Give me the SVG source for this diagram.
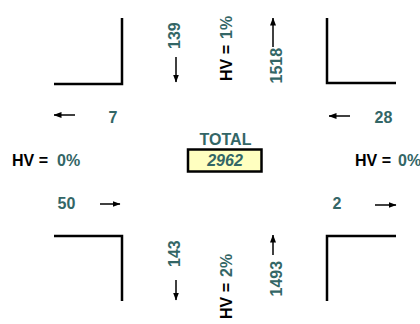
<svg xmlns="http://www.w3.org/2000/svg" width="420" height="324" viewBox="0 0 420 324">
<style>
text{font-family:"Liberation Sans",Arial,sans-serif;font-weight:bold;font-size:16px}
.t{fill:#336666}
.k{fill:#000}
.i{font-style:italic}
.curb{fill:none;stroke:#000;stroke-width:2.5}
.arr{fill:none;stroke:#000;stroke-width:1.5}
</style>
<defs>
<marker id="ah" markerUnits="userSpaceOnUse" markerWidth="8" markerHeight="6" refX="7.5" refY="3" orient="auto">
<path d="M0,0 L8,3 L0,6 z" fill="#000"/>
</marker>
</defs>
<g id="curbs">
<path class="curb" d="M54,84 H122 V18"/>
<path class="curb" d="M327,18 V83 H396"/>
<path class="curb" d="M54,236 H122 V301"/>
<path class="curb" d="M396,236 H327 V301"/>
</g>
<g id="connectors">
<line class="arr" x1="75" y1="115" x2="54" y2="115" marker-end="url(#ah)"/>
<line class="arr" x1="350" y1="116" x2="329" y2="116" marker-end="url(#ah)"/>
<line class="arr" x1="100" y1="204" x2="120" y2="204" marker-end="url(#ah)"/>
<line class="arr" x1="375" y1="205" x2="396" y2="205" marker-end="url(#ah)"/>
<line class="arr" x1="176" y1="57" x2="176" y2="82" marker-end="url(#ah)"/>
<line class="arr" x1="273" y1="47" x2="273" y2="18" marker-end="url(#ah)"/>
<line class="arr" x1="176" y1="280" x2="176" y2="300" marker-end="url(#ah)"/>
<line class="arr" x1="273" y1="255" x2="273" y2="235" marker-end="url(#ah)"/>
</g>
<g id="north">
<text class="t" transform="translate(180,49) rotate(-90)">139</text>
<text class="k" transform="translate(232,81) rotate(-90)">HV =</text>
<text class="t" transform="translate(232,39) rotate(-90)">1%</text>
<text class="t" transform="translate(282,83.5) rotate(-90)">1518</text>
</g>
<g id="south">
<text class="t" transform="translate(180,267) rotate(-90)">143</text>
<text class="k" transform="translate(232,319) rotate(-90)">HV =</text>
<text class="t" transform="translate(232,277) rotate(-90)">2%</text>
<text class="t" transform="translate(282,296.5) rotate(-90)">1493</text>
</g>
<g id="west">
<text class="t" x="108.5" y="123">7</text>
<text class="k" x="12" y="166">HV =</text>
<text class="t" x="57" y="166">0%</text>
<text class="t" x="57.5" y="209">50</text>
</g>
<g id="east">
<text class="t" x="374.5" y="123">28</text>
<text class="k" x="355" y="166">HV =</text>
<text class="t" x="398" y="166">0%</text>
<text class="t" x="332.5" y="209">2</text>
</g>
<g id="total">
<text class="t" x="225.5" y="144.5" text-anchor="middle">TOTAL</text>
<rect x="188" y="149.5" width="73.5" height="22" fill="#FFFFC0" stroke="#000" stroke-width="2.5"/>
<text class="t i" x="225" y="166" text-anchor="middle">2962</text>
</g>
</svg>
